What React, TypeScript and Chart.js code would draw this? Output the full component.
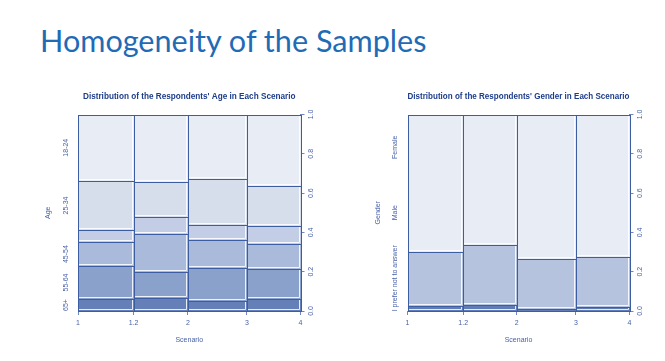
import React, { useEffect, useRef } from "react";
import { Chart, registerables } from "chart.js";

Chart.register(...registerables);

// ---------- data ----------
const scenarioTicks = ["1", "1.2", "2", "3", "4"];

// relative sample size of each scenario column (widths of the spines)
const ageScenarioShare = [0.25, 0.244, 0.265, 0.241];
const genderScenarioShare = [0.251, 0.241, 0.267, 0.241];

// age groups, bottom to top
const ageGroups = ["65+", "55-64", "45-54", "35-44", "25-34", "18-24"];
const age65plus = [0.061, 0.065, 0.051, 0.063];
const age55to64 = [0.168, 0.133, 0.166, 0.149];
const age45to54 = [0.121, 0.192, 0.143, 0.129];
const age35to44 = [0.062, 0.087, 0.078, 0.092];
const age25to34 = [0.25, 0.178, 0.234, 0.205];
const age18to24 = [0.338, 0.345, 0.328, 0.362];

// gender, bottom to top
const genderGroups = ["I prefer not to answer", "Male", "Female"];
const genderNoAnswer = [0.025, 0.03, 0.01, 0.02];
const genderMale = [0.274, 0.306, 0.255, 0.256];
const genderFemale = [0.701, 0.664, 0.735, 0.724];

const rightAxisTicks = [0, 0.2, 0.4, 0.6, 0.8, 1.0];

// ---------- styles ----------
const ageColors = ["#6580b9", "#8aa2cb", "#a9badb", "#c3cde5", "#d6deec", "#e8ecf5"];
const genderColors = ["#5f7cb8", "#b5c3df", "#e8ecf5"];
const FONT = "'Liberation Sans', Arial, sans-serif";
const BORDER = "#3c5da2";
const AXIS = "#6f87c1";
const TEXT = "#4862a9";
const TITLE = "#1d3d8b";

type MosaicProps = {
  title: string;
  axisTitle: string;
  categories: string[];
  series: number[][];
  shares: number[];
  colors: string[];
  labelMode: "firstColumn" | "equal";
  left: number;
  width: number;
  leftAxisWidth: number;
  rightAxisWidth: number;
  axisTitlePad: number;
};

function Mosaic(p: MosaicProps) {
  const ref = useRef<HTMLCanvasElement>(null);
  useEffect(() => {
    const canvas = ref.current;
    if (!canvas) return;
    const total = p.shares.reduce((a, b) => a + b, 0);
    const bounds: number[] = [0];
    p.shares.forEach((s) => bounds.push(bounds[bounds.length - 1] + s / total));
    bounds[bounds.length - 1] = 1;

    const mosaic = {
      id: "mosaic",
      beforeDatasetsDraw(chart: any) {
        const { ctx } = chart;
        const xs = chart.scales.x;
        const ys = chart.scales.y;
        const rects: { x0: number; x1: number; y0: number; y1: number; c: string }[] = [];
        for (let j = 0; j < p.shares.length; j++) {
          const colTotal = p.series.reduce((a, s) => a + s[j], 0);
          const x0 = Math.round(xs.getPixelForValue(bounds[j]));
          const x1 = Math.round(xs.getPixelForValue(bounds[j + 1]));
          let acc = 0;
          for (let k = 0; k < p.series.length; k++) {
            const v = p.series[k][j] / colTotal;
            const yb = Math.round(ys.getPixelForValue(acc));
            const yt = Math.round(ys.getPixelForValue(Math.min(1, acc + v)));
            acc += v;
            rects.push({ x0, x1, y0: yt, y1: yb, c: p.colors[k] });
          }
        }
        ctx.save();
        rects.forEach((r) => {
          ctx.fillStyle = r.c;
          ctx.fillRect(r.x0, r.y0, r.x1 - r.x0, r.y1 - r.y0);
        });
        ctx.lineWidth = 1;
        ctx.strokeStyle = "rgba(255,255,255,0.85)";
        rects.forEach((r) => {
          if (r.y1 - r.y0 < 4) return;
          ctx.beginPath();
          ctx.moveTo(r.x0 + 1, r.y1 - 1.5);
          ctx.lineTo(r.x1 - 1.5, r.y1 - 1.5);
          ctx.lineTo(r.x1 - 1.5, r.y0 + 1);
          ctx.stroke();
        });
        ctx.strokeStyle = BORDER;
        rects.forEach((r) => {
          ctx.strokeRect(r.x0 + 0.5, r.y0 + 0.5, r.x1 - r.x0, r.y1 - r.y0);
        });
        ctx.restore();
      },
      afterDraw(chart: any) {
        const { ctx, chartArea } = chart;
        const ys = chart.scales.y;
        const first = p.series.map((s) => s[0]);
        const firstTotal = first.reduce((a, b) => a + b, 0);
        let acc = 0;
        const pos = p.categories.map((_, k) => {
          if (p.labelMode === "equal") return (k + 0.5) / p.categories.length;
          const mid = acc + first[k] / firstTotal / 2;
          acc += first[k] / firstTotal;
          return mid;
        });
        ctx.save();
        ctx.font = `7px ${FONT}`;
        ctx.fillStyle = TEXT;
        ctx.textAlign = "center";
        ctx.textBaseline = "middle";
        let lastTop = Infinity;
        p.categories.forEach((c, k) => {
          const py = ys.getPixelForValue(pos[k]);
          const hw = ctx.measureText(c).width / 2;
          if (py + hw > lastTop - 2) return;
          lastTop = py - hw;
          ctx.save();
          ctx.translate(chartArea.left - 12, py);
          ctx.rotate(-Math.PI / 2);
          ctx.fillText(c, 0, 0);
          ctx.restore();
        });
        ctx.restore();
      },
    };

    const chart = new Chart(canvas, {
      type: "scatter",
      data: { datasets: [] },
      options: {
        animation: false,
        responsive: false,
        maintainAspectRatio: false,
        layout: { padding: 0 },
        plugins: {
          legend: { display: false },
          tooltip: { enabled: false },
          title: {
            display: true,
            text: p.title,
            fullSize: false,
            color: TITLE,
            font: { family: FONT, size: 8.2, weight: "bold", lineHeight: 1.2 },
            padding: { top: 12, bottom: 12.66 },
          },
        },
        scales: {
          x: {
            type: "linear",
            position: "bottom",
            min: 0,
            max: 1,
            afterBuildTicks: (scale: any) => {
              scale.ticks = bounds.map((v) => ({ value: v }));
            },
            afterFit: (scale: any) => {
              scale.height = 50;
            },
            ticks: {
              autoSkip: false,
              maxRotation: 0,
              padding: 4,
              color: TEXT,
              font: { family: FONT, size: 7, lineHeight: 1.2 },
              callback: (_v: any, i: number) => scenarioTicks[i],
            },
            grid: { drawOnChartArea: false, drawTicks: true, tickLength: 4, color: AXIS },
            border: { display: false },
            title: {
              display: true,
              text: "Scenario",
              color: TEXT,
              font: { family: FONT, size: 7, lineHeight: 1.2 },
              padding: { top: 0, bottom: 16.8 },
            },
          },
          y: {
            type: "linear",
            position: "right",
            min: 0,
            max: 1,
            afterBuildTicks: (scale: any) => {
              scale.ticks = rightAxisTicks.map((v) => ({ value: v }));
            },
            afterFit: (scale: any) => {
              scale.width = p.rightAxisWidth;
            },
            ticks: {
              minRotation: 90,
              maxRotation: 90,
              crossAlign: "center",
              padding: 1.5,
              color: TEXT,
              font: { family: FONT, size: 7, lineHeight: 1.2 },
              callback: (v: any) => Number(v).toFixed(1),
            },
            grid: { drawOnChartArea: false, drawTicks: true, tickLength: 4, color: AXIS },
            border: { display: true, color: AXIS },
          },
          yl: {
            type: "linear",
            position: "left",
            min: 0,
            max: 1,
            afterFit: (scale: any) => {
              scale.width = p.leftAxisWidth;
            },
            ticks: { display: false },
            grid: { display: false },
            border: { display: false },
            title: {
              display: true,
              text: p.axisTitle,
              color: TEXT,
              font: { family: FONT, size: 7, lineHeight: 1.2 },
              padding: { top: p.axisTitlePad, bottom: 0 },
            },
          },
        },
      } as any,
      plugins: [mosaic as any],
    });
    return () => chart.destroy();
  }, []);
  return (
    <canvas
      ref={ref}
      width={p.width}
      height={281}
      style={{ position: "absolute", left: p.left, top: 80, width: p.width, height: 281 }}
    />
  );
}

export default function App() {
  return (
    <div style={{ position: "relative", width: 665, height: 361, background: "#ffffff", overflow: "hidden" }}>
      <style>{`body{margin:0;background:#fff}`}</style>
      <div
        style={{
          position: "absolute",
          left: 40,
          top: 26,
          fontFamily: "Lato, 'Open Sans', sans-serif",
          fontSize: 30.6,
          lineHeight: 1,
          color: "#1f6bb5",
          whiteSpace: "nowrap",
        }}
      >
        Homogeneity of the Samples
      </div>
      <Mosaic
        title="Distribution of the Respondents' Age in Each Scenario"
        axisTitle="Age"
        categories={ageGroups}
        series={[age65plus, age55to64, age45to54, age35to44, age25to34, age18to24]}
        shares={ageScenarioShare}
        colors={ageColors}
        labelMode="firstColumn"
        left={0}
        width={332}
        leftAxisWidth={78}
        rightAxisWidth={31.5}
        axisTitlePad={43.8}
      />
      <Mosaic
        title="Distribution of the Respondents' Gender in Each Scenario"
        axisTitle="Gender"
        categories={genderGroups}
        series={[genderNoAnswer, genderMale, genderFemale]}
        shares={genderScenarioShare}
        colors={genderColors}
        labelMode="equal"
        left={332}
        width={333}
        leftAxisWidth={75.5}
        rightAxisWidth={35.5}
        axisTitlePad={41.8}
      />
    </div>
  );
}
